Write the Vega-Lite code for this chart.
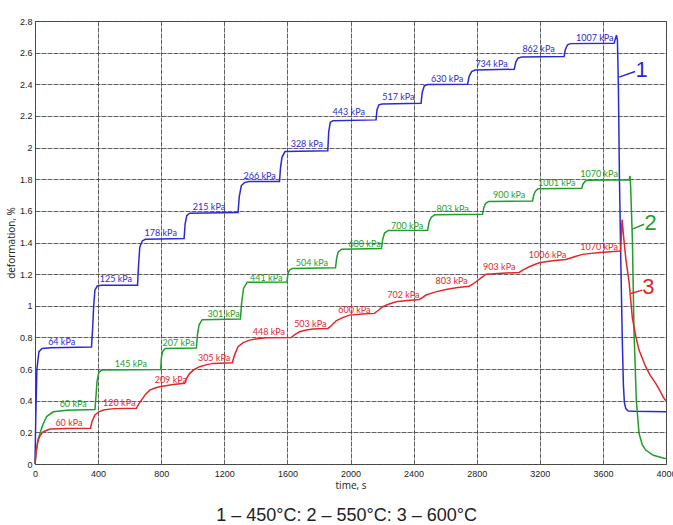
{
  "$schema": "https://vega.github.io/schema/vega-lite/v6.json",
  "width": 631,
  "height": 443,
  "autosize": "none",
  "padding": {"left": 35, "top": 21, "right": 7, "bottom": 61},
  "background": "white",
  "title": {
    "text": "1 – 450°C: 2 – 550°C: 3 – 600°C",
    "orient": "bottom",
    "anchor": "middle",
    "dx": -4,
    "offset": 17,
    "font": "Liberation Sans",
    "fontSize": 18,
    "fontWeight": "normal",
    "color": "#222"
  },
  "config": {
    "view": {"stroke": "#555", "strokeWidth": 1},
    "axis": {
      "labelFont": "Liberation Sans",
      "labelFontSize": 9,
      "labelColor": "#222",
      "labelOverlap": false,
      "labelFlush": false,
      "titleFont": "Open Sans",
      "titleFontSize": 10,
      "titleFontWeight": "normal",
      "titleColor": "#222",
      "gridColor": "#444",
      "gridOpacity": 0.85,
      "gridWidth": 1,
      "gridDash": [5, 1],
      "domain": false,
      "ticks": false
    }
  },
  "datasets": {
    "curves": [
      {"s": "1", "t": 0, "d": 0}, {"s": "1", "t": 5, "d": 0.3}, {"s": "1", "t": 12, "d": 0.6}, {"s": "1", "t": 25, "d": 0.71}, {"s": "1", "t": 45, "d": 0.73}, {"s": "1", "t": 100, "d": 0.735}, {"s": "1", "t": 358, "d": 0.74},
      {"s": "1", "t": 365, "d": 0.85}, {"s": "1", "t": 372, "d": 1.0}, {"s": "1", "t": 380, "d": 1.1}, {"s": "1", "t": 395, "d": 1.125}, {"s": "1", "t": 420, "d": 1.13}, {"s": "1", "t": 650, "d": 1.13},
      {"s": "1", "t": 656, "d": 1.25}, {"s": "1", "t": 664, "d": 1.37}, {"s": "1", "t": 680, "d": 1.41}, {"s": "1", "t": 700, "d": 1.42}, {"s": "1", "t": 945, "d": 1.425},
      {"s": "1", "t": 952, "d": 1.52}, {"s": "1", "t": 962, "d": 1.57}, {"s": "1", "t": 980, "d": 1.585}, {"s": "1", "t": 1287, "d": 1.59},
      {"s": "1", "t": 1295, "d": 1.69}, {"s": "1", "t": 1308, "d": 1.76}, {"s": "1", "t": 1330, "d": 1.78}, {"s": "1", "t": 1360, "d": 1.785}, {"s": "1", "t": 1550, "d": 1.785},
      {"s": "1", "t": 1556, "d": 1.87}, {"s": "1", "t": 1566, "d": 1.94}, {"s": "1", "t": 1585, "d": 1.975}, {"s": "1", "t": 1856, "d": 1.98},
      {"s": "1", "t": 1862, "d": 2.1}, {"s": "1", "t": 1872, "d": 2.16}, {"s": "1", "t": 1890, "d": 2.17}, {"s": "1", "t": 2162, "d": 2.175},
      {"s": "1", "t": 2168, "d": 2.24}, {"s": "1", "t": 2180, "d": 2.27}, {"s": "1", "t": 2200, "d": 2.275}, {"s": "1", "t": 2447, "d": 2.28},
      {"s": "1", "t": 2455, "d": 2.35}, {"s": "1", "t": 2468, "d": 2.39}, {"s": "1", "t": 2490, "d": 2.398}, {"s": "1", "t": 2742, "d": 2.4},
      {"s": "1", "t": 2752, "d": 2.45}, {"s": "1", "t": 2768, "d": 2.48}, {"s": "1", "t": 2790, "d": 2.49}, {"s": "1", "t": 3038, "d": 2.495},
      {"s": "1", "t": 3048, "d": 2.54}, {"s": "1", "t": 3062, "d": 2.565}, {"s": "1", "t": 3085, "d": 2.573}, {"s": "1", "t": 3354, "d": 2.575},
      {"s": "1", "t": 3362, "d": 2.62}, {"s": "1", "t": 3376, "d": 2.65}, {"s": "1", "t": 3395, "d": 2.657}, {"s": "1", "t": 3671, "d": 2.66},
      {"s": "1", "t": 3680, "d": 2.69}, {"s": "1", "t": 3686, "d": 2.71}, {"s": "1", "t": 3692, "d": 2.68}, {"s": "1", "t": 3698, "d": 2.4},
      {"s": "1", "t": 3705, "d": 1.8}, {"s": "1", "t": 3713, "d": 1.31}, {"s": "1", "t": 3723, "d": 0.78}, {"s": "1", "t": 3730, "d": 0.5},
      {"s": "1", "t": 3736, "d": 0.39}, {"s": "1", "t": 3745, "d": 0.35}, {"s": "1", "t": 3760, "d": 0.335}, {"s": "1", "t": 3800, "d": 0.333}, {"s": "1", "t": 4000, "d": 0.33},

      {"s": "2", "t": 0, "d": 0}, {"s": "2", "t": 8, "d": 0.08}, {"s": "2", "t": 18, "d": 0.15}, {"s": "2", "t": 32, "d": 0.194}, {"s": "2", "t": 50, "d": 0.25}, {"s": "2", "t": 74, "d": 0.3}, {"s": "2", "t": 116, "d": 0.33}, {"s": "2", "t": 200, "d": 0.34}, {"s": "2", "t": 380, "d": 0.345},
      {"s": "2", "t": 386, "d": 0.42}, {"s": "2", "t": 393, "d": 0.52}, {"s": "2", "t": 405, "d": 0.58}, {"s": "2", "t": 425, "d": 0.594}, {"s": "2", "t": 797, "d": 0.597},
      {"s": "2", "t": 801, "d": 0.67}, {"s": "2", "t": 808, "d": 0.71}, {"s": "2", "t": 825, "d": 0.73}, {"s": "2", "t": 1023, "d": 0.733},
      {"s": "2", "t": 1030, "d": 0.82}, {"s": "2", "t": 1040, "d": 0.88}, {"s": "2", "t": 1060, "d": 0.912}, {"s": "2", "t": 1302, "d": 0.916},
      {"s": "2", "t": 1310, "d": 1.02}, {"s": "2", "t": 1322, "d": 1.11}, {"s": "2", "t": 1345, "d": 1.148}, {"s": "2", "t": 1597, "d": 1.15},
      {"s": "2", "t": 1603, "d": 1.2}, {"s": "2", "t": 1612, "d": 1.225}, {"s": "2", "t": 1630, "d": 1.236}, {"s": "2", "t": 1905, "d": 1.24},
      {"s": "2", "t": 1912, "d": 1.3}, {"s": "2", "t": 1922, "d": 1.34}, {"s": "2", "t": 1945, "d": 1.358}, {"s": "2", "t": 2196, "d": 1.362},
      {"s": "2", "t": 2204, "d": 1.42}, {"s": "2", "t": 2216, "d": 1.46}, {"s": "2", "t": 2240, "d": 1.476}, {"s": "2", "t": 2489, "d": 1.478},
      {"s": "2", "t": 2498, "d": 1.53}, {"s": "2", "t": 2512, "d": 1.56}, {"s": "2", "t": 2535, "d": 1.575}, {"s": "2", "t": 2837, "d": 1.578},
      {"s": "2", "t": 2845, "d": 1.62}, {"s": "2", "t": 2855, "d": 1.645}, {"s": "2", "t": 2875, "d": 1.659}, {"s": "2", "t": 3154, "d": 1.662},
      {"s": "2", "t": 3162, "d": 1.7}, {"s": "2", "t": 3172, "d": 1.725}, {"s": "2", "t": 3190, "d": 1.74}, {"s": "2", "t": 3466, "d": 1.743},
      {"s": "2", "t": 3474, "d": 1.77}, {"s": "2", "t": 3486, "d": 1.786}, {"s": "2", "t": 3505, "d": 1.794}, {"s": "2", "t": 3766, "d": 1.796},
      {"s": "2", "t": 3772, "d": 1.82}, {"s": "2", "t": 3776, "d": 1.75}, {"s": "2", "t": 3781, "d": 1.6}, {"s": "2", "t": 3787, "d": 1.415},
      {"s": "2", "t": 3797, "d": 0.846}, {"s": "2", "t": 3812, "d": 0.4}, {"s": "2", "t": 3829, "d": 0.194}, {"s": "2", "t": 3850, "d": 0.12},
      {"s": "2", "t": 3871, "d": 0.088}, {"s": "2", "t": 3920, "d": 0.055}, {"s": "2", "t": 3987, "d": 0.036}, {"s": "2", "t": 4000, "d": 0.035},

      {"s": "3", "t": 0, "d": 0}, {"s": "3", "t": 6, "d": 0.06}, {"s": "3", "t": 12, "d": 0.11}, {"s": "3", "t": 21, "d": 0.152}, {"s": "3", "t": 35, "d": 0.185}, {"s": "3", "t": 53, "d": 0.204}, {"s": "3", "t": 95, "d": 0.221}, {"s": "3", "t": 200, "d": 0.225}, {"s": "3", "t": 352, "d": 0.226},
      {"s": "3", "t": 362, "d": 0.27}, {"s": "3", "t": 380, "d": 0.31}, {"s": "3", "t": 405, "d": 0.33}, {"s": "3", "t": 433, "d": 0.341}, {"s": "3", "t": 500, "d": 0.35}, {"s": "3", "t": 643, "d": 0.352},
      {"s": "3", "t": 658, "d": 0.38}, {"s": "3", "t": 675, "d": 0.404}, {"s": "3", "t": 700, "d": 0.44}, {"s": "3", "t": 728, "d": 0.467}, {"s": "3", "t": 760, "d": 0.48}, {"s": "3", "t": 791, "d": 0.488}, {"s": "3", "t": 876, "d": 0.503}, {"s": "3", "t": 949, "d": 0.51},
      {"s": "3", "t": 960, "d": 0.54}, {"s": "3", "t": 981, "d": 0.573}, {"s": "3", "t": 1010, "d": 0.598}, {"s": "3", "t": 1044, "d": 0.615}, {"s": "3", "t": 1090, "d": 0.628}, {"s": "3", "t": 1128, "d": 0.636}, {"s": "3", "t": 1251, "d": 0.64},
      {"s": "3", "t": 1265, "d": 0.69}, {"s": "3", "t": 1287, "d": 0.741}, {"s": "3", "t": 1320, "d": 0.767}, {"s": "3", "t": 1360, "d": 0.783}, {"s": "3", "t": 1410, "d": 0.792}, {"s": "3", "t": 1466, "d": 0.798}, {"s": "3", "t": 1625, "d": 0.8},
      {"s": "3", "t": 1650, "d": 0.82}, {"s": "3", "t": 1677, "d": 0.836}, {"s": "3", "t": 1720, "d": 0.847}, {"s": "3", "t": 1762, "d": 0.853}, {"s": "3", "t": 1857, "d": 0.857},
      {"s": "3", "t": 1880, "d": 0.875}, {"s": "3", "t": 1909, "d": 0.905}, {"s": "3", "t": 1950, "d": 0.925}, {"s": "3", "t": 1994, "d": 0.941}, {"s": "3", "t": 2078, "d": 0.948}, {"s": "3", "t": 2152, "d": 0.952},
      {"s": "3", "t": 2175, "d": 0.97}, {"s": "3", "t": 2204, "d": 0.994}, {"s": "3", "t": 2240, "d": 1.01}, {"s": "3", "t": 2289, "d": 1.025}, {"s": "3", "t": 2360, "d": 1.033}, {"s": "3", "t": 2437, "d": 1.04},
      {"s": "3", "t": 2455, "d": 1.052}, {"s": "3", "t": 2479, "d": 1.068}, {"s": "3", "t": 2540, "d": 1.088}, {"s": "3", "t": 2606, "d": 1.103}, {"s": "3", "t": 2680, "d": 1.115}, {"s": "3", "t": 2753, "d": 1.124},
      {"s": "3", "t": 2775, "d": 1.137}, {"s": "3", "t": 2796, "d": 1.152}, {"s": "3", "t": 2830, "d": 1.178}, {"s": "3", "t": 2859, "d": 1.2}, {"s": "3", "t": 2960, "d": 1.206}, {"s": "3", "t": 3070, "d": 1.211},
      {"s": "3", "t": 3091, "d": 1.226}, {"s": "3", "t": 3140, "d": 1.25}, {"s": "3", "t": 3196, "d": 1.272}, {"s": "3", "t": 3280, "d": 1.285}, {"s": "3", "t": 3365, "d": 1.293},
      {"s": "3", "t": 3420, "d": 1.31}, {"s": "3", "t": 3470, "d": 1.325}, {"s": "3", "t": 3580, "d": 1.337}, {"s": "3", "t": 3711, "d": 1.346},
      {"s": "3", "t": 3716, "d": 1.42}, {"s": "3", "t": 3719, "d": 1.5}, {"s": "3", "t": 3722, "d": 1.545}, {"s": "3", "t": 3730, "d": 1.45}, {"s": "3", "t": 3745, "d": 1.3},
      {"s": "3", "t": 3766, "d": 1.15}, {"s": "3", "t": 3787, "d": 0.92}, {"s": "3", "t": 3810, "d": 0.8}, {"s": "3", "t": 3829, "d": 0.72}, {"s": "3", "t": 3871, "d": 0.615},
      {"s": "3", "t": 3900, "d": 0.56}, {"s": "3", "t": 3935, "d": 0.51}, {"s": "3", "t": 3960, "d": 0.465}, {"s": "3", "t": 3987, "d": 0.415}, {"s": "3", "t": 4000, "d": 0.4}
    ],
    "labels": [
      {"s": "1", "t": 169, "d": 0.769, "text": "64 kPa"},
      {"s": "1", "t": 513, "d": 1.169, "text": "125 kPa"},
      {"s": "1", "t": 797, "d": 1.457, "text": "178 kPa"},
      {"s": "1", "t": 1103, "d": 1.623, "text": "215 kPa"},
      {"s": "1", "t": 1424, "d": 1.821, "text": "266 kPa"},
      {"s": "1", "t": 1723, "d": 2.021, "text": "328 kPa"},
      {"s": "1", "t": 1989, "d": 2.226, "text": "443 kPa"},
      {"s": "1", "t": 2304, "d": 2.318, "text": "517 kPa"},
      {"s": "1", "t": 2612, "d": 2.436, "text": "630 kPa"},
      {"s": "1", "t": 2894, "d": 2.531, "text": "734 kPa"},
      {"s": "1", "t": 3192, "d": 2.621, "text": "862 kPa"},
      {"s": "1", "t": 3549, "d": 2.691, "text": "1007 kPa"},
      {"s": "2", "t": 242, "d": 0.377, "text": "60 kPa"},
      {"s": "2", "t": 608, "d": 0.632, "text": "145 kPa"},
      {"s": "2", "t": 911, "d": 0.766, "text": "207 kPa"},
      {"s": "2", "t": 1196, "d": 0.948, "text": "301 kPa"},
      {"s": "2", "t": 1466, "d": 1.177, "text": "441  kPa"},
      {"s": "2", "t": 1755, "d": 1.268, "text": "504 kPa"},
      {"s": "2", "t": 2089, "d": 1.392, "text": "600 kPa"},
      {"s": "2", "t": 2359, "d": 1.505, "text": "700 kPa"},
      {"s": "2", "t": 2647, "d": 1.609, "text": "803 kPa"},
      {"s": "2", "t": 3006, "d": 1.698, "text": "900 kPa"},
      {"s": "2", "t": 3308, "d": 1.774, "text": "1001 kPa"},
      {"s": "2", "t": 3576, "d": 1.832, "text": "1070 kPa"},
      {"s": "3", "t": 215, "d": 0.259, "text": "60 kPa"},
      {"s": "3", "t": 534, "d": 0.385, "text": "120  kPa"},
      {"s": "3", "t": 861, "d": 0.533, "text": "209 kPa"},
      {"s": "3", "t": 1135, "d": 0.667, "text": "305 kPa"},
      {"s": "3", "t": 1483, "d": 0.834, "text": "448 kPa"},
      {"s": "3", "t": 1745, "d": 0.884, "text": "503 kPa"},
      {"s": "3", "t": 2025, "d": 0.971, "text": "600 kPa"},
      {"s": "3", "t": 2335, "d": 1.068, "text": "702 kPa"},
      {"s": "3", "t": 2641, "d": 1.154, "text": "803  kPa"},
      {"s": "3", "t": 2943, "d": 1.243, "text": "903 kPa"},
      {"s": "3", "t": 3249, "d": 1.322, "text": "1006  kPa"},
      {"s": "3", "t": 3576, "d": 1.371, "text": "1070  kPa"}
    ],
    "leaders": [
      {"s": "1", "t": 3703, "d": 2.445, "t2": 3804, "d2": 2.481},
      {"s": "2", "t": 3783, "d": 1.483, "t2": 3861, "d2": 1.515},
      {"s": "3", "t": 3777, "d": 1.078, "t2": 3850, "d2": 1.099}
    ],
    "numbers": [
      {"s": "1", "t": 3846, "d": 2.493, "text": "1"},
      {"s": "2", "t": 3903, "d": 1.522, "text": "2"},
      {"s": "3", "t": 3888, "d": 1.116, "text": "3"}
    ]
  },
  "layer": [
    {
      "data": {"name": "curves"},
      "mark": {"type": "line", "strokeWidth": 1.5, "interpolate": "linear"},
      "encoding": {
        "x": {
          "field": "t", "type": "quantitative",
          "scale": {"domain": [0, 4000], "nice": false},
          "axis": {
            "title": "time, s",
            "values": [0, 400, 800, 1200, 1600, 2000, 2400, 2800, 3200, 3600, 4000],
            "format": "d",
            "labelPadding": 5,
            "titlePadding": 2
          }
        },
        "y": {
          "field": "d", "type": "quantitative",
          "scale": {"domain": [0, 2.8], "nice": false},
          "axis": {
            "title": "deformation, %",
            "tickCount": 14,
            "format": "~g",
            "labelPadding": 3,
            "titlePadding": 3
          }
        },
        "color": {
          "field": "s", "type": "nominal",
          "scale": {"domain": ["1", "2", "3"], "range": ["#2a2ad2", "#1f9e2a", "#e02828"]},
          "legend": null
        },
        "detail": {"field": "s"}
      }
    },
    {
      "data": {"name": "labels"},
      "mark": {"type": "text", "font": "Lato", "fontSize": 9, "baseline": "middle", "align": "center"},
      "encoding": {
        "x": {"field": "t", "type": "quantitative"},
        "y": {"field": "d", "type": "quantitative"},
        "text": {"field": "text"},
        "color": {"field": "s", "type": "nominal", "legend": null}
      }
    },
    {
      "data": {"name": "leaders"},
      "mark": {"type": "rule", "strokeWidth": 1.5},
      "encoding": {
        "x": {"field": "t", "type": "quantitative"},
        "y": {"field": "d", "type": "quantitative"},
        "x2": {"field": "t2"},
        "y2": {"field": "d2"},
        "color": {"field": "s", "type": "nominal", "legend": null}
      }
    },
    {
      "data": {"name": "numbers"},
      "mark": {"type": "text", "font": "Liberation Sans", "fontSize": 22, "baseline": "middle", "align": "center"},
      "encoding": {
        "x": {"field": "t", "type": "quantitative"},
        "y": {"field": "d", "type": "quantitative"},
        "text": {"field": "text"},
        "color": {"field": "s", "type": "nominal", "legend": null}
      }
    }
  ]
}
